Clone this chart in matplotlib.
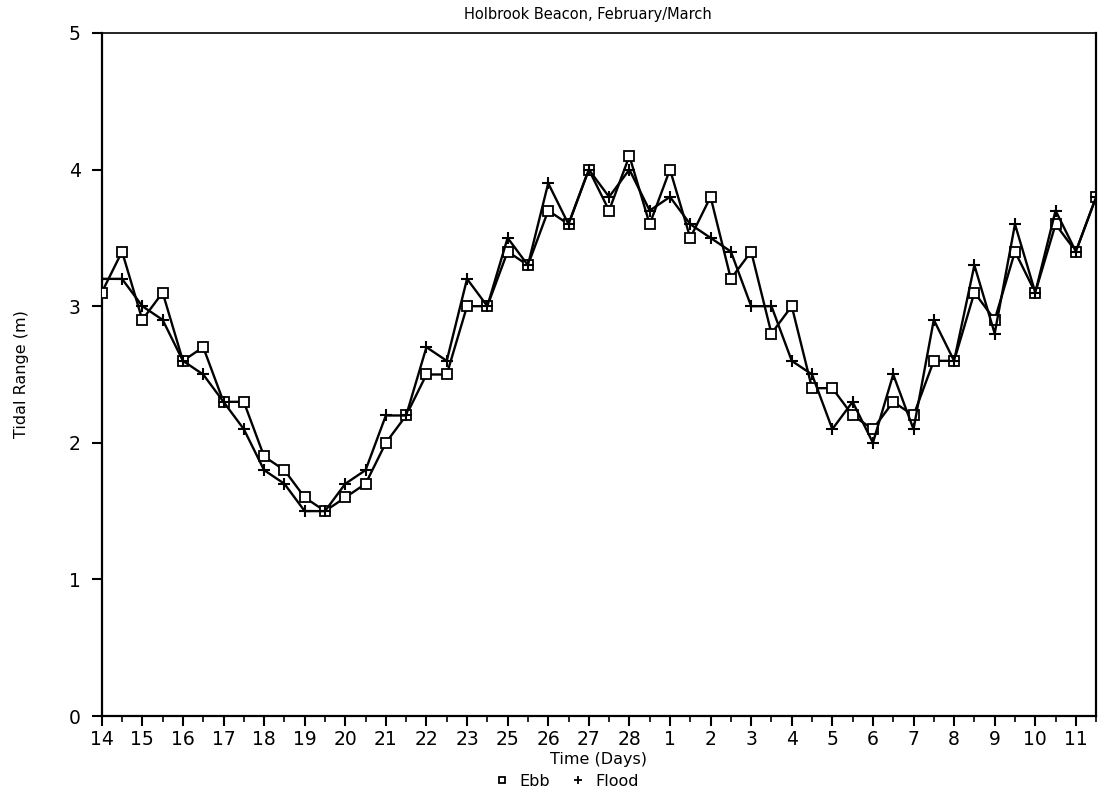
import numpy as np
import matplotlib
matplotlib.use("Agg")
import matplotlib.pyplot as plt
from matplotlib.lines import Line2D

# day labels along the time axis (one tick per day; 24 is not labelled in the series)
day_labels = ["14", "15", "16", "17", "18", "19", "20", "21", "22", "23",
              "25", "26", "27", "28", "1", "2", "3", "4", "5", "6",
              "7", "8", "9", "10", "11"]

# tidal range (m), one reading every half day
ebb = [3.1, 3.4, 2.9, 3.1, 2.6, 2.7, 2.3, 2.3, 1.9, 1.8,
       1.6, 1.5, 1.6, 1.7, 2.0, 2.2, 2.5, 2.5, 3.0, 3.0,
       3.4, 3.3, 3.7, 3.6, 4.0, 3.7, 4.1, 3.6, 4.0, 3.5,
       3.8, 3.2, 3.4, 2.8, 3.0, 2.4, 2.4, 2.2, 2.1, 2.3,
       2.2, 2.6, 2.6, 3.1, 2.9, 3.4, 3.1, 3.6, 3.4, 3.8]
flood = [3.2, 3.2, 3.0, 2.9, 2.6, 2.5, 2.3, 2.1, 1.8, 1.7,
         1.5, 1.5, 1.7, 1.8, 2.2, 2.2, 2.7, 2.6, 3.2, 3.0,
         3.5, 3.3, 3.9, 3.6, 4.0, 3.8, 4.0, 3.7, 3.8, 3.6,
         3.5, 3.4, 3.0, 3.0, 2.6, 2.5, 2.1, 2.3, 2.0, 2.5,
         2.1, 2.9, 2.6, 3.3, 2.8, 3.6, 3.1, 3.7, 3.4, 3.8]

t = np.arange(len(ebb)) * 0.5

plt.rcParams['font.family'] = ['DejaVu Sans']

fig = plt.figure(figsize=(11.0, 8.02), dpi=100)
ax = fig.add_axes([0.0925, 0.1072, 0.904, 0.8517])

ax.plot(t, ebb, color='black', lw=1.7, marker='s', ms=6.5,
        mfc='white', mec='black', mew=1.3, zorder=3)
ax.plot(t, flood, color='black', lw=1.7, marker='+', ms=8,
        mew=1.5, zorder=3)

ax.set_xlim(0, 24.5)
ax.set_ylim(0, 5)
ax.set_xticks(np.arange(len(day_labels)))
ax.set_xticklabels(day_labels)
ax.set_xticks(np.arange(len(day_labels)) + 0.5, minor=True)
ax.set_yticks(range(6))

ax.tick_params(axis='both', which='major', direction='out', length=7,
               width=1.5, labelsize=13.5, pad=3, color='black')
ax.tick_params(axis='x', which='minor', direction='out', length=4, width=1.2)
ax.tick_params(axis='y', which='major', pad=8)

for side in ['left', 'bottom', 'right']:
    ax.spines[side].set_linewidth(1.6)
ax.spines['top'].set_linewidth(1.2)

ax.set_ylabel("Tidal Range (m)", fontsize=11.5, labelpad=29)
ax.set_xlabel("Time (Days)", fontsize=11.5, labelpad=2)
fig.text(0.534, 0.982, "Holbrook Beacon, February/March", ha='center',
         va='center', fontsize=10.5)

handles = [Line2D([], [], ls='none', marker='s', ms=5, mfc='white',
                  mec='black', mew=1.3, color='black'),
           Line2D([], [], ls='none', marker='+', ms=6, mew=1.3,
                  color='black')]
fig.legend(handles, ["Ebb", "Flood"], loc='center', ncol=2,
           bbox_to_anchor=(0.515, 0.026), frameon=False, fontsize=11.5,
           handlelength=1.0, handletextpad=0.6, columnspacing=1.2,
           borderpad=0)

fig.savefig("out.png", dpi=100)
